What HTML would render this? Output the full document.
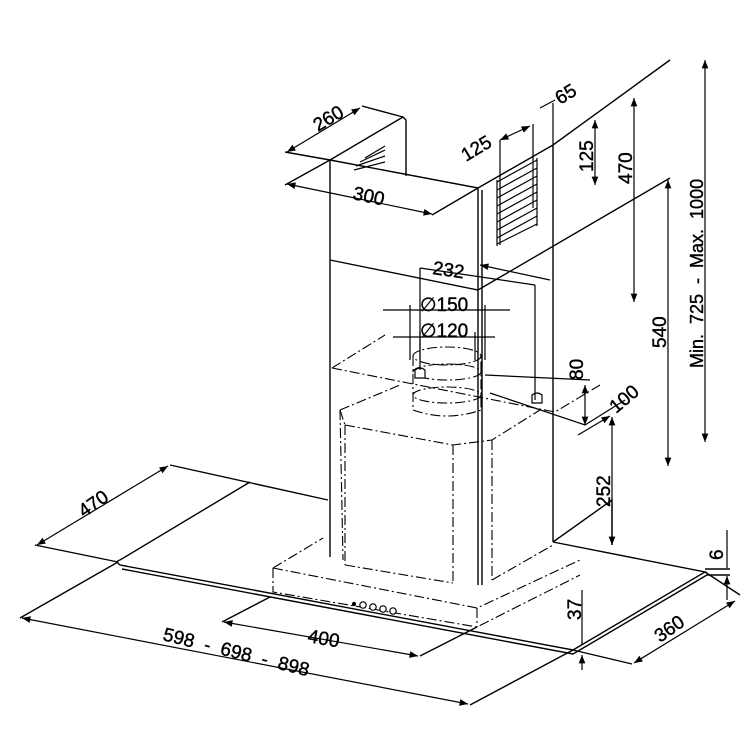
<!DOCTYPE html>
<html><head><meta charset="utf-8"><style>
html,body{margin:0;padding:0;background:#fff}
svg{display:block}
text{font-family:"Liberation Sans",sans-serif;font-size:19px;fill:#000;stroke:#000;stroke-width:0.4;white-space:pre}
</style></head><body>
<svg width="750" height="750" viewBox="0 0 750 750" xmlns="http://www.w3.org/2000/svg">
<defs>
<marker id="a" viewBox="0 0 10 10" refX="10" refY="5" markerWidth="9" markerHeight="7" orient="auto-start-reverse"><path d="M0,1 L10,5 L0,9 z" fill="#000"/></marker>
</defs>
<g stroke="#000" stroke-width="1.4" fill="none">
<path d="M330,160 L403,117 L406,120 L406,176"/>
<path d="M330,160 L478,188 L553,145"/>
<path d="M553,145 L670,60"/>
<path d="M330,160 L330,557"/>
<path d="M478,188 L478,585 M482,190 L482,585"/>
<path d="M553,145 L553,542"/>
<path d="M330,260 L478,290 L670,178"/>
<path d="M170,465 L328,500"/>
<path d="M553,542 L705,572 L573,650 L120,565 Q115,561 120,560 L250,482"/>
<path d="M122,569 L573,654 L707,575 L730,575"/>
<path d="M705,569 L730,569"/>
<path d="M35,545 L118,562 M118,562 L20,618 M573,650 L470,705"/>
<path d="M270,597 L222,622 M477,627 L420,656"/>
<path d="M705,572 L740,595 M573,650 L632,664"/>
<path d="M285,152 L330,160 M285,185 L330,160 M432,215 L478,188 M362,106 L403,117"/>
<path d="M553,542 L612,500 L612,545"/>
</g>
<g stroke="#000" stroke-width="1.2">
<path d="M497,182 L537,160 M497,190 L537,168 M497,198 L537,176 M497,206 L537,184 M497,214 L537,192 M497,222 L537,200 M497,230 L537,208 M497,238 L537,216 M497,244 L537,224"/>
<path d="M497,180 L497,246 M537,158 L537,226"/>
<path d="M360,162 L385,150 M356,166 L385,156 M354,170 L385,162 M365,158 L385,146"/>
</g>
<g stroke="#000" stroke-width="1.1" fill="none" stroke-dasharray="10,3,2,3">
<path d="M332,368 L385,335"/>
<path d="M332,368 L555,412 L600,385"/>
<path d="M340,410 L343,560 M345,425 L453,445 L492,440 L540,410 M453,445 L453,583 M492,440 L492,580 M345,425 L345,565"/>
<path d="M340,410 L345,425 M340,410 L400,385"/>
<path d="M273,568 L323,538 M273,568 L477,608 L580,560 M273,568 L273,592 L477,627 L580,575 M477,608 L477,627"/>
<path d="M345,565 L453,583 M492,580 L553,545"/>
<ellipse cx="447" cy="356" rx="34" ry="9"/>
<ellipse cx="447" cy="372" rx="34" ry="8"/>
<ellipse cx="447" cy="395" rx="34" ry="8"/>
<path d="M413,356 L413,410 Q447,422 481,410 L481,356"/>
</g>
<g stroke="#000" stroke-width="1.2" fill="#fff">
<path d="M415,378 l0,-8 q5,-4 10,0 l0,8 z"/>
<path d="M532,403 l0,-8 q5,-4 10,0 l0,8 z"/>
<circle cx="354" cy="604" r="1.5" fill="#000"/>
<circle cx="363" cy="605" r="3.2"/><circle cx="373" cy="607" r="3.2"/><circle cx="383" cy="609" r="3.2"/><circle cx="393" cy="611" r="3.2"/>
</g>
<g stroke="#000" stroke-width="1.2" fill="none">
<path d="M287,152 L360,108" marker-start="url(#a)" marker-end="url(#a)"/>
<path d="M287,184 L432,214" marker-start="url(#a)" marker-end="url(#a)"/>
<path d="M500,140 L530,126" marker-start="url(#a)" marker-end="url(#a)"/>
<path d="M500,140 L500,245 M533,124 L533,208 M540,108 L555,100 M553,103 L553,145"/>
<path d="M595,120 L595,185" marker-start="url(#a)" marker-end="url(#a)"/>
<path d="M634,98 L634,302" marker-start="url(#a)" marker-end="url(#a)"/>
<path d="M668,180 L668,466" marker-start="url(#a)" marker-end="url(#a)"/>
<path d="M705,60 L705,442" marker-start="url(#a)" marker-end="url(#a)"/>
<path d="M612,417 L612,545" marker-start="url(#a)" marker-end="url(#a)"/>
<path d="M585,385 L585,425" marker-start="url(#a)" marker-end="url(#a)"/>
<path d="M480,265 L550,280 M420,268 L535,285" marker-start="url(#a)"/>
<path d="M535,285 L535,400 M420,268 L420,370"/>
<path d="M383,310 L510,310 M393,337 L495,337 M410,305 L410,360 M485,305 L485,360 M420,332 L420,360 M475,332 L475,360"/>
<path d="M490,393 L585,425 L625,400 M485,375 L590,380"/>
<path d="M578,435 L610,416" marker-end="url(#a)"/>
<path d="M727,530 L727,568 M727,600 L727,576" marker-end="url(#a)"/>
<path d="M582,590 L582,645 M582,670 L582,655" marker-end="url(#a)"/>
<path d="M37,545 L168,466" marker-start="url(#a)" marker-end="url(#a)"/>
<path d="M22,618 L468,704" marker-start="url(#a)" marker-end="url(#a)"/>
<path d="M224,622 L418,656" marker-start="url(#a)" marker-end="url(#a)"/>
<path d="M634,663 L735,601" marker-start="url(#a)" marker-end="url(#a)"/>
</g>
<text transform="translate(318,132) rotate(-31)">260</text>
<text transform="translate(352,199) rotate(12)">300</text>
<text transform="translate(466,162) rotate(-31)">125</text>
<text transform="translate(560,105) rotate(-31)">65</text>
<text transform="translate(593,172) rotate(-90)">125</text>
<text transform="translate(632,184) rotate(-90)">470</text>
<text transform="translate(666,348) rotate(-90)">540</text>
<text transform="translate(703,368) rotate(-90)" style="font-size:18px">Min.  725  -  Max.  1000</text>
<text transform="translate(610,507) rotate(-90)">252</text>
<text transform="translate(583,380) rotate(-90)">80</text>
<text transform="translate(616,414) rotate(-40)">100</text>
<text transform="translate(432,274) rotate(8)">232</text>
<text x="420" y="311">∅150</text>
<text x="420" y="337">∅120</text>
<text transform="translate(84,518) rotate(-35)">470</text>
<text transform="translate(162,640) rotate(14)">598  -  698  -  898</text>
<text transform="translate(307,642) rotate(10)">400</text>
<text transform="translate(660,643) rotate(-35)">360</text>
<text transform="translate(581,620) rotate(-90)">37</text>
<text transform="translate(723,560) rotate(-90)">6</text>
</svg>
</body></html>
